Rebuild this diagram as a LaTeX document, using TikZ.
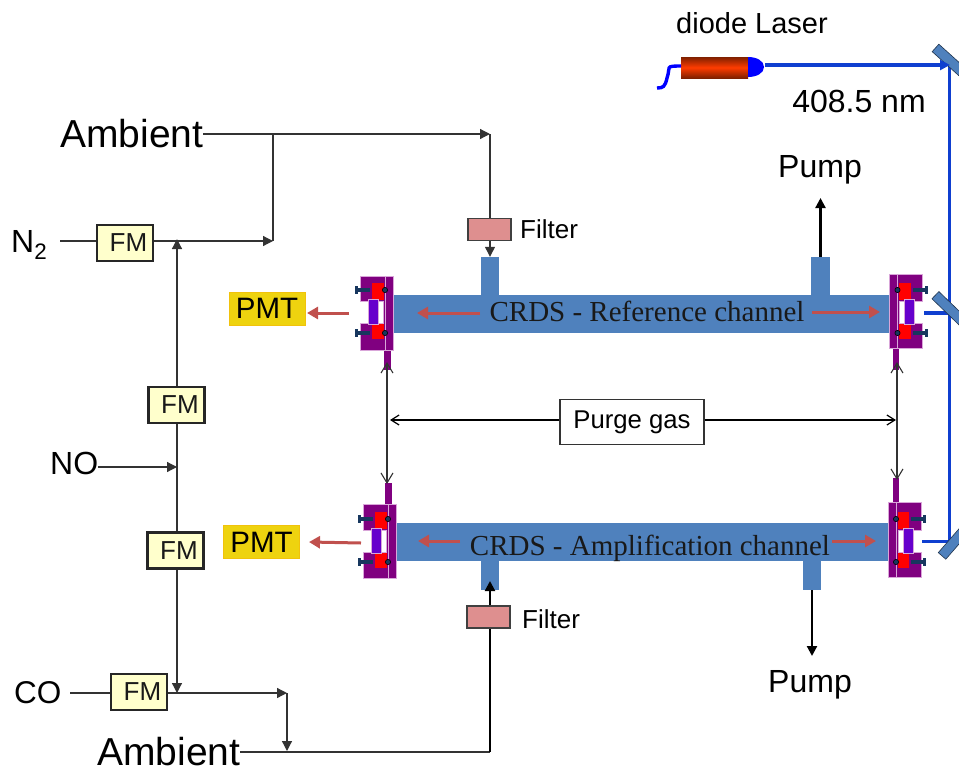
\documentclass[tikz,border=0pt]{standalone}
\usepackage{fontspec}
\setmainfont{Liberation Sans}
\newfontfamily\serifface{Liberation Serif}
\usetikzlibrary{arrows.meta,shadings}
\definecolor{tubeblue}{HTML}{4F81BD}
\definecolor{mountpurple}{HTML}{800080}
\definecolor{winviolet}{HTML}{6600CC}
\definecolor{edgepink}{HTML}{D9A6D9}
\definecolor{beam}{HTML}{0F3FD0}
\definecolor{redarrow}{HTML}{C0504D}
\definecolor{pmtgold}{HTML}{EED30F}
\definecolor{fmfill}{HTML}{FFFFCC}
\definecolor{filterfill}{HTML}{DE8F8F}
\definecolor{boltblue}{HTML}{17375E}
\definecolor{linegrey}{HTML}{333333}
\definecolor{laserdark}{HTML}{7F2000}
\definecolor{lasermid}{HTML}{FF3C00}
\tikzset{
  gas/.style={draw=linegrey,line width=1.25pt},
  gasarrow/.style={gas,-{Triangle[length=10pt,width=10pt]}},
  heavy/.style={draw=black,line width=2.2pt,-{Triangle[length=10pt,width=10pt]}},
  purge/.style={draw=linegrey,line width=1.1pt,{Straight Barb[length=10pt,width=12pt]}-{Straight Barb[length=10pt,width=12pt]}},
  purgeh/.style={draw=black,line width=1.2pt,-{Straight Barb[length=8pt,width=10pt]}},
  redarr/.style={draw=redarrow,line width=3pt,-{Triangle[length=11pt,width=12pt]}},
  beamline/.style={draw=beam,line width=3.2pt},
  fmbox/.style={draw=black!85,line width=2.2pt,fill=fmfill,minimum width=56pt,minimum height=36pt,inner sep=0pt,font=\fontsize{26}{26}\selectfont,text=black!90},
  filterbox/.style={draw=black!75,line width=1.4pt,fill=filterfill,minimum width=43pt,minimum height=22pt,inner sep=0pt},
  pmtbox/.style={fill=pmtgold,draw=pmtgold!80!orange,line width=0.4pt,minimum width=76pt,minimum height=33pt,inner sep=0pt,font=\fontsize{29.5}{29.5}\selectfont},
  tube/.style={fill=tubeblue,draw=none,inner sep=0pt},
  label/.style={inner sep=0pt,font=\fontsize{#1}{#1}\selectfont},
  mirrorplate/.style={fill=tubeblue,draw=black!60!tubeblue,line width=0.6pt,minimum height=10pt,inner sep=0pt},
  chan/.style={inner sep=0pt,font=\serifface\fontsize{29}{29}\selectfont,text=black!90},
  blockpart/.style={fill=mountpurple,draw=edgepink,line width=0.7pt},
}
% mount: #1 face x, #2 centre y, #3 direction (+1 block extends left, -1 right), #4 half height up, #5 half height down
\newcommand{\cavitymount}[5]{%
\begin{scope}[shift={(#1,#2)},xscale=#3]
  \path[blockpart] (-25,-#4) -- (0,-#4) -- (0,#5) -- (-25,#5) -- (-25,11) -- (-2,11) -- (-2,-11) -- (-25,-11) -- cycle;
  \path[blockpart] (0,-#4) rectangle (8,#5);
  \fill[red] (-13,-29) rectangle (-1.5,-12);
  \fill[red] (-13,12) rectangle (-1.5,27);
  \fill[winviolet,draw=edgepink,line width=0.5pt] (-17,-13) rectangle (-7,12);
  \draw[boltblue,line width=3.4pt] (-28,-22) -- (-15,-22);
  \draw[boltblue,line width=3.4pt] (-28,21) -- (-15,21);
  \fill[boltblue] (-30,-26) rectangle (-27,-18);
  \fill[boltblue] (-30,17) rectangle (-27,25);
  \filldraw[fill=boltblue,draw=black,line width=0.6pt] (0,-22) circle (2.6);
  \filldraw[fill=boltblue,draw=black,line width=0.6pt] (0,21) circle (2.6);
\end{scope}}
\begin{document}
\begin{tikzpicture}[x=1pt,y=-1pt]
\useasboundingbox (0,0) rectangle (959,769);
% tubes
\node[tube,minimum width=496pt,minimum height=38pt] (tubeA) at (641,313.5) {};
\node[tube,minimum width=492pt,minimum height=38pt] (tubeB) at (642,541.5) {};
\node[tube,minimum width=18pt,minimum height=38pt] (portA1) at (490,276) {};
\node[tube,minimum width=19pt,minimum height=38pt] (portA2) at (820.5,276) {};
\node[tube,minimum width=18pt,minimum height=30pt] (portB1) at (490,575) {};
\node[tube,minimum width=18pt,minimum height=30pt] (portB2) at (812,575) {};
% stems
\fill[mountpurple] (384,340) rectangle (391,370);
\fill[mountpurple] (893,340) rectangle (899,370);
\fill[mountpurple] (385,483) rectangle (392,510);
\fill[mountpurple] (893,478) rectangle (899,510);
% mounts
\cavitymount{385}{312}{1}{36}{38}
\cavitymount{897.5}{312}{-1}{38}{36}
\cavitymount{388}{541}{1}{37}{37}
\cavitymount{896}{541}{-1}{39}{36}
% beams
\node[inner sep=0pt,minimum size=0pt] (tip) at (765,65) {};
\coordinate (beamA) at (950,65);
\coordinate (beamCorner) at (949.5,65);
\coordinate (beamB) at (949.5,313);
\coordinate (beamC) at (949.5,541.5);
\coordinate (outA) at (924,313);
\coordinate (outB) at (922,541.5);
\draw[beamline] (beamCorner) -- (beamC) -- (outB);
\draw[beamline] (beamB) -- (outA);
% mirrors, cut by the page edge
\node[mirrorplate,minimum width=60pt,rotate=-42] (mirrorA) at (957.8,68) {};
\node[mirrorplate,minimum width=60pt,rotate=-44] (mirrorB) at (957,316) {};
\node[mirrorplate,minimum width=70pt,rotate=49] (mirrorC) at (965,529.5) {};
\draw[beamline,-{Triangle[length=10pt,width=10pt]}] (tip) -- (beamA);
% laser
\shade[top color=laserdark,bottom color=laserdark,middle color=lasermid] (681,57) rectangle (748,78);
\fill[blue] (748,57) .. controls (757,57) and (764,61) .. (764,67) .. controls (764,73) and (757,77) .. (748,77) -- cycle;
\draw[draw=blue,line width=3.4pt] (681,66) .. controls (664,66) and (671,67) .. (667,78) .. controls (665,87) and (663,88) .. (657,88);
% FM
\node[fmbox] (fmN) at (125,243) {\hspace*{7pt}FM};
\node[fmbox] (fmA) at (176.5,405) {\hspace*{7pt}FM};
\node[fmbox] (fmB) at (175.5,550.5) {\hspace*{7pt}FM};
\node[fmbox] (fmC) at (139,692) {\hspace*{7pt}FM};
% filters
\node[filterbox] (filtA) at (489.5,229.5) {};
\node[filterbox] (filtB) at (488.5,617) {};
\node[label=26,anchor=west] (filtLabA) at (520,229) {Filter};
\node[label=26,anchor=west] (filtLabB) at (522,619) {Filter};
% labels
\node[label=39,anchor=base west] (ambA) at (60,147) {Ambient};
\node[label=39,anchor=base west] (ambB) at (97,765.5) {Ambient};
\node[label=32,anchor=base west] (nitro) at (11,252) {N$_{\mathrm{2}}$};
\node[label=32,anchor=base west] (no) at (50,474) {NO};
\node[label=31.5,anchor=base west] (co) at (14,703) {CO};
\node[label=29] (diode) at (752,23) {diode Laser};
\node[label=32] (wl) at (859,101) {408.5 nm};
\node[label=32] (pumpA) at (820,170) {Pump};
\node[label=32] (pumpB) at (810,685) {Pump};
\node[pmtbox] (pmtA) at (267,308.5) {PMT};
\node[pmtbox] (pmtB) at (261.5,542) {PMT};
\node[chan,anchor=base] (chanA) at (647,321) {CRDS - Reference channel};
\node[chan,anchor=base] (chanB) at (650,555) {CRDS - Amplification channel};
\node[draw=black!80,line width=1.2pt,fill=white,minimum width=144pt,minimum height=45pt,inner sep=0pt,font=\fontsize{25.7}{25.7}\selectfont] (purgeBox) at (632,422) {Purge gas};
% junction coordinates
\coordinate (n2in) at (60,241);
\coordinate (topEnd) at (177,239);
\coordinate (t1) at (273,241);
\coordinate (t2) at (273,134);
\coordinate (ambEnd) at (490,134);
\coordinate (noEnd) at (177,467);
\coordinate (mainEnd) at (177,693);
\coordinate (coIn) at (70,693);
\coordinate (co1) at (287,693);
\coordinate (co2) at (287,751);
\coordinate (bot) at (490,752);
\coordinate (pmtAtip) at (307,313);
\coordinate (pmtBtip) at (309,542);
% gas lines
\draw[gas] (n2in) -- (fmN.west |- n2in);
\draw[gasarrow] (fmN.east |- n2in) -- (t1);
\draw[gas] (t1) -- (t2);
\draw[gasarrow] (ambA.east |- t2) -- (ambEnd);
\draw[gas] (ambEnd) -- (filtA.north -| ambEnd);
\draw[gasarrow] (filtA.south -| ambEnd) -- (portA1.north);
\draw[gasarrow] (fmA.north -| topEnd) -- (topEnd);
\draw[gas] (fmB.north -| noEnd) -- (fmA.south -| noEnd);
\draw[gasarrow] (fmB.south -| mainEnd) -- (mainEnd);
\draw[gasarrow] (no.east |- noEnd) -- (noEnd);
\draw[gas] (coIn) -- (fmC.west |- coIn);
\draw[gasarrow] (fmC.east |- co1) -- (co1);
\draw[gasarrow] (co1) -- (co2);
\draw[gas] (ambB.east |- bot) -- (bot);
\draw[draw=black,line width=2.2pt] (bot) -- (filtB.south -| bot);
\draw[heavy] (filtB.north -| bot) -- (490,581);
\draw[heavy] (portA2.north) -- (820.5,198);
\draw[heavy] (portB2.south) -- (812,656);
% purge
\draw[purgeh] (purgeBox.west) ++(0,-2) -- (390,420);
\draw[purgeh] (purgeBox.east) ++(0,-2) -- (896,420);
\draw[purge] (387,362) -- (387,484);
\draw[purge] (897,362) -- (897,480);
% red arrows
\draw[redarr] (480,313) -- (417,313);
\draw[redarr] (812,312) -- (880,312);
\draw[redarr] (349,313) -- (pmtAtip);
\draw[redarr] (460,541) -- (418,541);
\draw[redarr] (832,541) -- (876,541);
\draw[redarr] (361,543) -- (pmtBtip);
\end{tikzpicture}
\end{document}
